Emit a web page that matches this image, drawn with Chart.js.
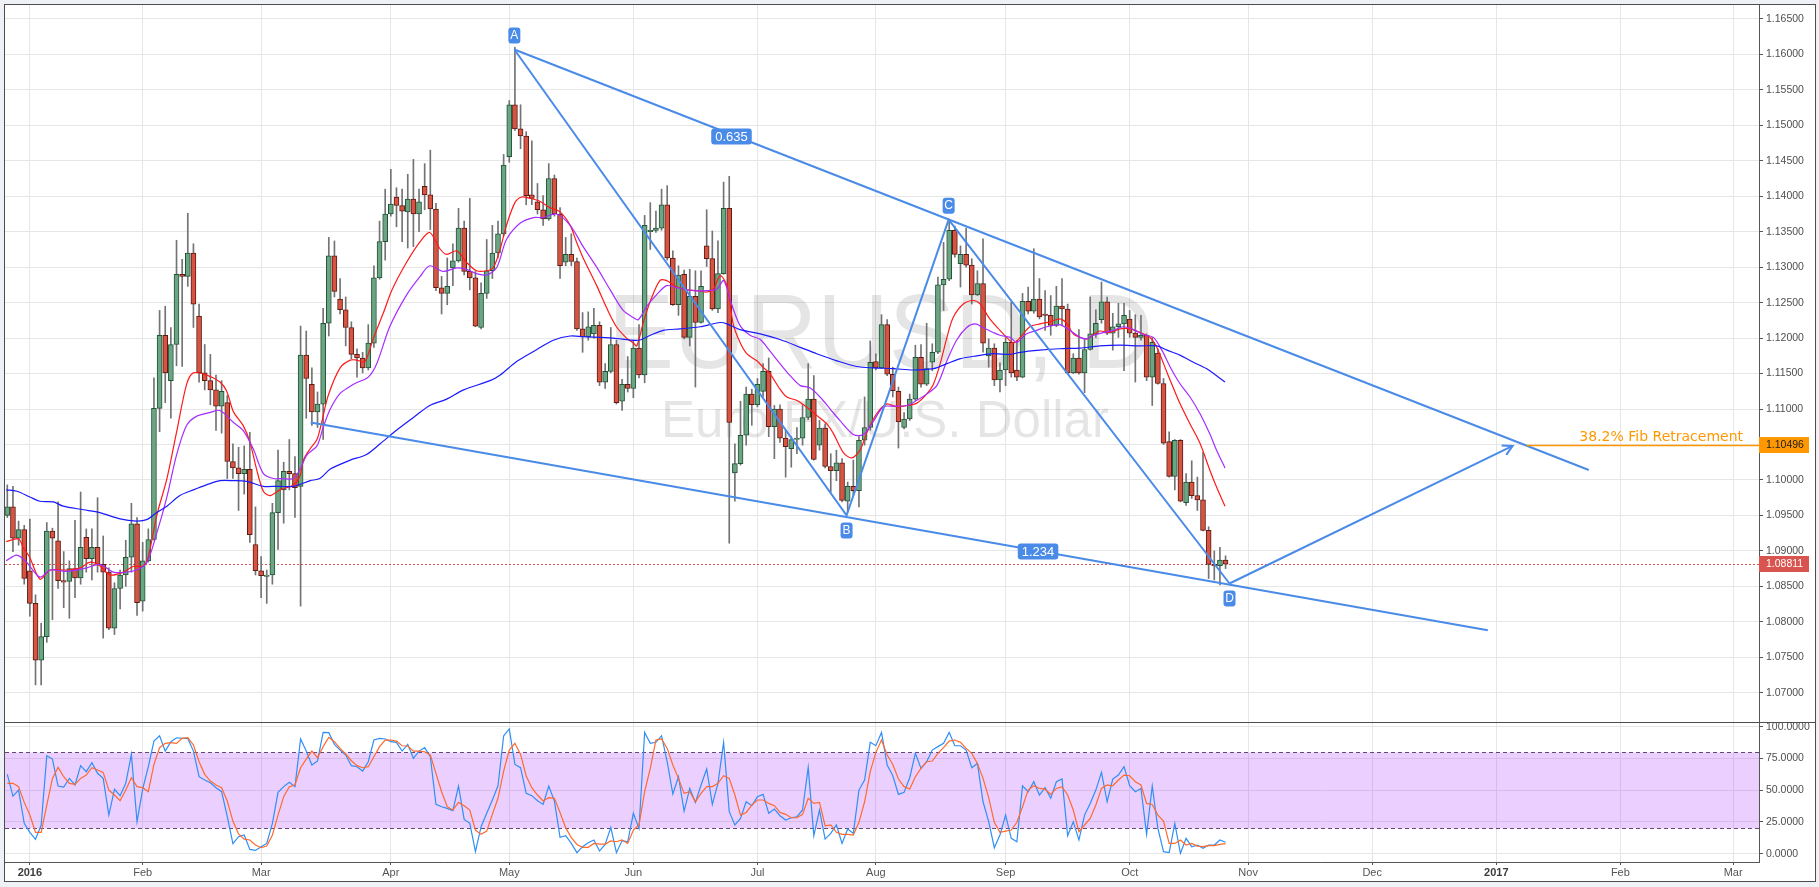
<!DOCTYPE html>
<html>
<head>
<meta charset="utf-8">
<title>EURUSD, D</title>
<script src="https://cdn.jsdelivr.net/npm/chart.js@4.4.1/dist/chart.umd.min.js"></script>
<style>
  html, body { margin: 0; padding: 0; background: #eef1f5; }
  #frame { position: absolute; left: 4px; top: 4px; width: 1812px; height: 878px; box-sizing: border-box; border: 1px solid #4d4d4d; background: #fff; }
  #priceChart { position: absolute; left: 0; top: 0; }
  #stochChart { position: absolute; left: 0; top: 717px; }
  #sep { position: absolute; left: 0; top: 717px; width: 1810px; height: 1px; background: #4d4d4d; }
</style>
</head>
<body>
<div id="frame">
  <canvas id="priceChart" width="1810" height="717"></canvas>
  <canvas id="stochChart" width="1810" height="159"></canvas>
  <div id="sep"></div>
</div>
<script>
// ---- daily candles (index 0 = 28 Dec 2015, one step per trading day) ----
const opens = [
  1.0950,1.0962,1.0918,1.0930,1.0872,1.0826,1.0746,1.0779,1.0928,1.0914,
  1.0858,1.0857,1.0875,1.0862,1.0919,1.0889,1.0905,1.0881,1.0870,1.0791,
  1.0847,1.0866,1.0891,1.0938,1.0829,1.0886,1.0916,1.1101,1.1204,1.1140,
  1.1191,1.1290,1.1287,1.1320,1.1231,1.1151,1.1140,1.1127,1.1104,1.1109,
  1.1026,1.1017,1.1009,1.1015,1.0909,1.0872,1.0864,1.0866,1.0954,1.0986,
  1.1012,1.1009,1.0991,1.1176,1.1135,1.1096,1.1107,1.1221,1.1316,1.1255,
  1.1240,1.1215,1.1177,1.1172,1.1158,1.1193,1.1285,1.1336,1.1375,1.1399,
  1.1387,1.1378,1.1396,1.1375,1.1414,1.1402,1.1382,1.1271,1.1263,1.1299,
  1.1309,1.1355,1.1294,1.1285,1.1215,1.1263,1.1295,1.1320,1.1347,1.1456,
  1.1529,1.1495,1.1485,1.1402,1.1392,1.1381,1.1368,1.1425,1.1375,1.1307,
  1.1318,1.1308,1.1213,1.1202,1.1206,1.1218,1.1138,1.1153,1.1191,1.1111,
  1.1135,1.1129,1.1186,1.1148,1.1350,1.1352,1.1355,1.1388,1.1313,1.1247,
  1.1290,1.1201,1.1259,1.1222,1.1330,1.1312,1.1241,1.1291,1.1383,1.1010,
  1.1023,1.1063,1.1121,1.1106,1.1125,1.1153,1.1075,1.1100,1.1059,1.1044,
  1.1057,1.1059,1.1088,1.1114,1.1049,1.1073,1.1019,1.1013,1.1024,1.0970,
  1.0991,1.0985,1.1056,1.1074,1.1167,1.1158,1.1219,1.1149,1.1125,1.1074,
  1.1086,1.1114,1.1173,1.1135,1.1166,1.1180,1.1275,1.1283,1.1352,1.1305,
  1.1318,1.1303,1.1261,1.1277,1.1175,1.1186,1.1141,1.1155,1.1194,1.1155,
  1.1145,1.1252,1.1238,1.1255,1.1234,1.1232,1.1218,1.1245,1.1241,1.1151,
  1.1172,1.1151,1.1184,1.1206,1.1226,1.1251,1.1207,1.1216,1.1220,1.1227,
  1.1207,1.1201,1.1204,1.1145,1.1179,1.1136,1.1054,1.1005,1.1056,1.0968,
  1.0997,1.0978,1.0972,1.0929,1.0881,1.0879,1.0887
];
const highs = [
  1.0993,1.0991,1.0942,1.0936,1.0945,1.0838,1.0798,1.0940,1.0932,1.0969,
  1.0899,1.0886,1.0943,1.0983,1.0931,1.0931,1.0975,1.0921,1.0876,1.0855,
  1.0873,1.0915,1.0967,1.0947,1.0912,1.0931,1.1144,1.1239,1.1245,1.1215,
  1.1338,1.1311,1.1376,1.1333,1.1248,1.1191,1.1177,1.1148,1.1140,1.1119,
  1.1051,1.1046,1.1048,1.1067,1.0962,1.0892,1.0873,1.0967,1.1042,1.1025,
  1.1057,1.1033,1.1217,1.1210,1.1158,1.1124,1.1242,1.1342,1.1337,1.1284,
  1.1258,1.1223,1.1185,1.1180,1.1219,1.1302,1.1365,1.1410,1.1438,1.1412,
  1.1410,1.1431,1.1452,1.1410,1.1446,1.1465,1.1390,1.1287,1.1313,1.1333,
  1.1383,1.1365,1.1397,1.1294,1.1278,1.1339,1.1359,1.1365,1.1459,1.1535,
  1.1610,1.1529,1.1491,1.1478,1.1418,1.1401,1.1446,1.1430,1.1384,1.1342,
  1.1347,1.1313,1.1236,1.1237,1.1242,1.1223,1.1164,1.1215,1.1197,1.1142,
  1.1174,1.1197,1.1219,1.1373,1.1391,1.1379,1.1410,1.1415,1.1323,1.1302,
  1.1296,1.1297,1.1295,1.1295,1.1381,1.1351,1.1337,1.1420,1.1428,1.1051,
  1.1111,1.1131,1.1128,1.1143,1.1164,1.1172,1.1105,1.1106,1.1070,1.1061,
  1.1074,1.1106,1.1164,1.1147,1.1084,1.1079,1.1037,1.1042,1.1030,1.0997,
  1.1028,1.1061,1.1117,1.1196,1.1178,1.1233,1.1226,1.1159,1.1131,1.1095,
  1.1121,1.1190,1.1191,1.1221,1.1192,1.1286,1.1335,1.1366,1.1358,1.1330,
  1.1355,1.1312,1.1295,1.1340,1.1199,1.1192,1.1165,1.1201,1.1251,1.1197,
  1.1263,1.1272,1.1326,1.1284,1.1267,1.1260,1.1273,1.1284,1.1248,1.1178,
  1.1212,1.1199,1.1258,1.1240,1.1279,1.1258,1.1235,1.1249,1.1249,1.1239,
  1.1233,1.1232,1.1206,1.1201,1.1185,1.1143,1.1068,1.1057,1.1057,1.1009,
  1.1027,1.1004,1.1039,1.0934,1.0900,1.0905,1.0893
];
const lows = [
  1.0947,1.0899,1.0908,1.0853,1.0808,1.0711,1.0711,1.0771,1.0803,1.0847,
  1.0820,1.0805,1.0834,1.0853,1.0870,1.0859,1.0870,1.0777,1.0789,1.0782,
  1.0818,1.0850,1.0870,1.0809,1.0815,1.0884,1.0915,1.1068,1.1109,1.1087,
  1.1161,1.1160,1.1273,1.1215,1.1138,1.1127,1.1106,1.1070,1.1066,1.1002,
  1.1002,1.0957,1.0980,1.0912,1.0866,1.0834,1.0826,1.0853,1.0902,1.0939,
  1.0986,1.0947,1.0822,1.1087,1.1077,1.1074,1.1057,1.1203,1.1258,1.1234,
  1.1189,1.1171,1.1145,1.1151,1.1155,1.1187,1.1283,1.1310,1.1372,1.1357,
  1.1336,1.1327,1.1329,1.1350,1.1381,1.1353,1.1267,1.1234,1.1247,1.1274,
  1.1307,1.1289,1.1268,1.1216,1.1213,1.1256,1.1284,1.1313,1.1344,1.1448,
  1.1493,1.1467,1.1388,1.1388,1.1375,1.1359,1.1366,1.1372,1.1284,1.1302,
  1.1302,1.1211,1.1180,1.1197,1.1200,1.1133,1.1129,1.1151,1.1107,1.1098,
  1.1124,1.1116,1.1144,1.1137,1.1325,1.1349,1.1352,1.1310,1.1246,1.1232,
  1.1199,1.1189,1.1131,1.1221,1.1301,1.1239,1.1236,1.1290,1.0911,1.0970,
  1.1021,1.1049,1.1077,1.1103,1.1117,1.1061,1.1030,1.1053,1.1004,1.1018,
  1.1037,1.1049,1.1085,1.1028,1.1042,1.1017,1.0983,1.0999,1.0969,1.0955,
  1.0978,1.0962,1.1049,1.1070,1.1155,1.1157,1.1147,1.1117,1.1045,1.1072,
  1.1084,1.1112,1.1131,1.1133,1.1154,1.1178,1.1239,1.1281,1.1314,1.1272,
  1.1300,1.1248,1.1260,1.1180,1.1159,1.1133,1.1124,1.1133,1.1145,1.1140,
  1.1144,1.1234,1.1235,1.1227,1.1211,1.1204,1.1216,1.1218,1.1150,1.1150,
  1.1149,1.1123,1.1183,1.1201,1.1221,1.1205,1.1183,1.1201,1.1154,1.1201,
  1.1138,1.1197,1.1140,1.1105,1.1135,1.1050,1.1004,1.0986,1.0969,1.0964,
  1.0974,1.0957,1.0928,1.0861,1.0859,1.0852,1.0875
];
const closes = [
  1.0962,1.0918,1.0930,1.0861,1.0826,1.0746,1.0779,1.0928,1.0918,1.0858,
  1.0856,1.0875,1.0862,1.0905,1.0889,1.0905,1.0881,1.0870,1.0791,1.0847,
  1.0866,1.0891,1.0938,1.0827,1.0886,1.0916,1.1101,1.1204,1.1151,1.1191,
  1.1290,1.1287,1.1320,1.1248,1.1151,1.1140,1.1127,1.1104,1.1125,1.1026,
  1.1017,1.1009,1.1015,1.0923,1.0872,1.0865,1.0866,1.0954,1.0999,1.1012,
  1.1009,1.0989,1.1176,1.1143,1.1096,1.1107,1.1221,1.1316,1.1266,1.1240,
  1.1215,1.1177,1.1172,1.1158,1.1193,1.1285,1.1336,1.1375,1.1389,1.1387,
  1.1379,1.1396,1.1375,1.1392,1.1402,1.1382,1.1271,1.1263,1.1273,1.1309,
  1.1355,1.1294,1.1285,1.1217,1.1263,1.1295,1.1320,1.1347,1.1444,1.1529,
  1.1495,1.1485,1.1401,1.1397,1.1381,1.1368,1.1425,1.1375,1.1302,1.1318,
  1.1308,1.1213,1.1202,1.1216,1.1218,1.1138,1.1153,1.1191,1.1109,1.1135,
  1.1129,1.1186,1.1148,1.1359,1.1352,1.1355,1.1388,1.1313,1.1247,1.1289,
  1.1201,1.1259,1.1222,1.1273,1.1312,1.1241,1.1291,1.1383,1.1081,1.1023,
  1.1063,1.1121,1.1106,1.1135,1.1153,1.1075,1.1100,1.1059,1.1047,1.1057,
  1.1059,1.1088,1.1114,1.1029,1.1073,1.1019,1.1013,1.1024,1.0971,1.0991,
  1.0985,1.1056,1.1074,1.1166,1.1158,1.1219,1.1149,1.1126,1.1082,1.1086,
  1.1114,1.1173,1.1135,1.1157,1.1180,1.1275,1.1283,1.1352,1.1318,1.1318,
  1.1303,1.1261,1.1277,1.1193,1.1186,1.1141,1.1155,1.1194,1.1151,1.1145,
  1.1252,1.1238,1.1255,1.1230,1.1232,1.1218,1.1245,1.1241,1.1151,1.1172,
  1.1151,1.1184,1.1206,1.1221,1.1251,1.1207,1.1216,1.1220,1.1232,1.1207,
  1.1201,1.1204,1.1145,1.1194,1.1136,1.1052,1.1005,1.1056,1.0970,1.0997,
  1.0978,1.0972,1.0929,1.0881,1.0879,1.0887,1.08811
];

// ---- moving averages (x = candle index) ----
const maFastX = [-0.2,2.0,2.8,3.9,5.8,7.6,10.5,12.9,14.7,16.4,18.2,20.6,22.3,24.1,25.0,26.5,28.3,30.0,31.8,33.0,35.3,37.7,38.9,40.1,41.8,43.0,44.2,45.4,46.6,48.3,50.7,51.9,52.5,53.7,54.9,55.7,56.9,59.0,60.8,61.9,63.4,64.9,66.7,68.2,70.8,73.2,74.9,76.7,77.9,79.7,81.4,83.2,85.0,86.2,87.4,88.5,90.0,91.2,92.7,94.4,96.2,98.0,99.8,100.9,102.1,104.5,106.3,108.0,109.8,111.0,111.6,112.8,114.0,115.7,116.9,118.7,120.5,122.2,124.0,125.2,126.4,127.6,128.7,129.9,131.1,132.9,134.0,135.2,137.0,138.2,140.0,141.7,143.5,145.3,146.5,148.2,149.7,151.2,152.4,154.1,155.9,157.7,159.5,161.2,163.0,164.2,165.4,166.6,167.7,169.5,171.3,172.5,174.2,176.0,177.2,178.4,179.6,181.3,183.1,184.9,186.6,187.8,189.0,190.2,191.4,192.6,193.7,195.5,197.3,199.1,200.8,202.6,203.8,205.6,207.9,209.7,211.5,213.2,214.4,215.9];
const maFastY = [1.0913,1.0917,1.0905,1.0892,1.0860,1.0873,1.0873,1.0876,1.0884,1.0879,1.0866,1.0870,1.0878,1.0879,1.0892,1.0950,1.1002,1.1067,1.1135,1.1151,1.1148,1.1138,1.1125,1.1096,1.1077,1.1054,1.1015,1.0984,1.0978,1.0986,1.0993,1.1006,1.1028,1.1044,1.1057,1.1080,1.1119,1.1158,1.1169,1.1169,1.1167,1.1200,1.1236,1.1268,1.1307,1.1336,1.1349,1.1326,1.1318,1.1323,1.1307,1.1295,1.1295,1.1300,1.1326,1.1359,1.1391,1.1399,1.1397,1.1393,1.1384,1.1378,1.1359,1.1336,1.1313,1.1274,1.1242,1.1216,1.1200,1.1193,1.1189,1.1223,1.1252,1.1281,1.1281,1.1272,1.1268,1.1267,1.1265,1.1269,1.1288,1.1274,1.1220,1.1194,1.1178,1.1168,1.1159,1.1150,1.1128,1.1117,1.1112,1.1103,1.1091,1.1079,1.1065,1.1039,1.1031,1.1042,1.1067,1.1093,1.1107,1.1103,1.1105,1.1108,1.1121,1.1135,1.1164,1.1201,1.1229,1.1248,1.1253,1.1248,1.1227,1.1211,1.1201,1.1193,1.1201,1.1216,1.1220,1.1223,1.1227,1.1221,1.1206,1.1201,1.1199,1.1205,1.1210,1.1208,1.1213,1.1213,1.1208,1.1201,1.1187,1.1152,1.1108,1.1079,1.1051,1.1014,1.0990,1.0963];

const maMidX = [-0.2,1.7,3.4,5.8,7.6,10.5,14.1,16.4,18.8,21.2,22.9,24.7,26.5,28.3,30.0,31.8,33.6,35.9,37.7,40.1,41.8,43.6,45.4,47.2,48.9,50.7,51.9,53.1,54.9,56.0,57.2,59.0,60.8,61.9,64.0,65.5,67.8,70.8,73.2,74.9,77.3,79.7,81.4,83.2,85.0,86.8,88.5,90.9,93.3,95.0,97.4,99.8,102.1,104.5,106.9,109.2,111.0,111.9,113.4,115.1,116.9,118.7,121.6,124.0,125.8,127.0,128.4,129.9,131.7,133.5,135.2,137.0,138.8,140.6,142.3,144.1,145.9,147.6,150.0,151.8,153.5,155.3,157.1,159.5,161.2,163.0,164.8,166.6,168.3,170.1,171.6,173.0,174.8,176.0,177.8,179.0,180.7,182.5,184.3,186.6,188.4,190.2,191.4,192.6,194.4,196.1,197.9,199.7,201.4,203.2,204.7,206.2,207.9,209.7,211.5,213.2,214.4,215.9];
const maMidY = [1.0886,1.0894,1.0884,1.0863,1.0873,1.0871,1.0876,1.0881,1.0870,1.0870,1.0873,1.0883,1.0925,1.0976,1.1035,1.1077,1.1090,1.1095,1.1098,1.1081,1.1070,1.1044,1.1009,1.1002,1.1002,1.1002,1.1015,1.1035,1.1048,1.1074,1.1099,1.1122,1.1132,1.1137,1.1145,1.1164,1.1216,1.1261,1.1287,1.1302,1.1294,1.1299,1.1297,1.1291,1.1289,1.1300,1.1339,1.1362,1.1370,1.1370,1.1375,1.1359,1.1329,1.1300,1.1268,1.1239,1.1229,1.1226,1.1245,1.1261,1.1274,1.1271,1.1267,1.1267,1.1269,1.1281,1.1248,1.1218,1.1204,1.1198,1.1182,1.1164,1.1147,1.1133,1.1130,1.1117,1.1100,1.1084,1.1064,1.1064,1.1082,1.1103,1.1104,1.1105,1.1112,1.1121,1.1133,1.1168,1.1197,1.1215,1.1220,1.1215,1.1208,1.1204,1.1201,1.1194,1.1206,1.1211,1.1216,1.1219,1.1211,1.1201,1.1199,1.1204,1.1208,1.1211,1.1216,1.1212,1.1205,1.1201,1.1183,1.1159,1.1136,1.1117,1.1093,1.1065,1.1042,1.1017];

const maSlowX = [-0.2,1.7,4.0,5.8,8.2,9.9,13.5,16.4,20.0,22.9,24.7,26.5,28.3,30.6,33.0,35.3,37.7,40.1,42.4,45.4,47.8,50.7,53.7,55.4,57.2,59.0,60.8,63.7,66.1,69.0,72.0,74.9,77.9,80.9,85.6,87.4,90.3,93.9,96.8,99.8,102.1,107.4,111.9,114.0,116.3,119.3,122.8,126.4,127.6,129.9,133.5,137.0,140.6,143.5,147.1,150.6,153.5,157.1,160.6,164.2,166.6,169.0,171.9,174.8,177.8,179.6,183.1,186.6,190.2,193.7,197.3,200.8,203.8,205.6,207.9,210.3,212.6,215.9];
const maSlowY = [1.0986,1.0984,1.0976,1.0970,1.0969,1.0963,1.0958,1.0954,1.0945,1.0942,1.0944,1.0954,1.0963,1.0978,1.0986,1.0993,1.0999,1.0999,1.0998,1.0991,1.0991,1.0991,1.0999,1.1002,1.1015,1.1022,1.1028,1.1036,1.1051,1.1070,1.1088,1.1105,1.1114,1.1127,1.1140,1.1148,1.1167,1.1184,1.1197,1.1203,1.1202,1.1200,1.1197,1.1204,1.1211,1.1213,1.1216,1.1222,1.1220,1.1212,1.1206,1.1198,1.1187,1.1178,1.1168,1.1160,1.1158,1.1157,1.1155,1.1157,1.1164,1.1171,1.1175,1.1178,1.1177,1.1180,1.1183,1.1185,1.1186,1.1189,1.1190,1.1189,1.1189,1.1183,1.1176,1.1166,1.1157,1.1138];

// ---- stochastic %K / %D, one value per candle ----
const stochK = [
  62.5,45.4,50.1,23.9,16.8,11.3,22.6,77.2,74.5,53.3,
  52.5,59.3,54.1,69.3,64.6,71.7,63.3,59.3,30.4,50.7,
  45.7,55.4,78.2,25.2,50.9,68.5,88.7,92.9,80.8,88.2,
  91.3,90.8,90.8,80.8,60.6,58.0,55.9,52.0,48.8,29.1,
  7.9,13.4,14.7,3.4,2.6,5.5,8.1,23.9,48.3,52.8,
  56.2,52.8,90.3,80.8,69.8,73.0,95.5,95.3,86.1,81.6,
  77.7,69.3,68.5,65.1,72.4,89.5,90.8,90.3,88.2,87.7,
  80.8,86.1,75.1,80.8,83.5,76.4,38.8,37.0,35.7,33.9,
  53.3,27.0,23.9,1.6,21.3,31.8,42.3,53.5,92.7,98.2,
  70.3,67.7,47.5,45.7,41.7,38.8,53.3,41.5,12.9,14.2,
  8.1,0.8,5.5,8.7,10.8,2.1,7.3,20.7,0.8,10.3,
  9.4,31.8,19.9,95.5,86.9,87.7,92.9,72.4,47.0,60.6,
  33.6,51.4,40.4,54.1,66.7,38.8,55.4,87.7,33.1,22.6,
  27.8,40.9,37.8,44.9,46.7,31.8,35.2,29.9,26.5,28.3,
  29.1,34.4,68.0,14.2,34.4,11.5,16.0,22.6,8.1,19.4,
  16.0,50.1,58.0,87.7,85.0,95.5,69.8,61.4,46.7,48.3,
  59.8,79.0,67.2,72.4,81.6,84.3,86.9,95.5,85.0,85.0,
  81.6,67.7,71.1,40.9,25.2,4.7,14.7,30.4,12.1,9.4,
  53.5,48.8,56.7,46.2,52.0,43.6,56.7,58.8,14.2,25.2,
  10.8,30.4,39.6,50.1,64.0,40.9,58.8,61.9,68.5,53.5,
  48.8,51.4,15.2,53.3,19.9,1.6,0.8,23.9,0.3,12.1,
  5.5,6.8,4.2,6.8,6.8,10.8,9.0
];
const stochD = [
  55.4,55.4,52.8,40.4,30.4,16.8,16.8,38.3,59.3,68.0,
  60.6,55.4,54.6,59.3,61.9,67.7,65.9,64.0,50.1,46.2,
  41.7,50.1,59.8,52.8,52.0,48.8,70.3,83.5,86.9,87.4,
  86.9,90.8,91.3,85.6,72.4,62.5,57.2,54.1,52.0,41.5,
  25.7,15.5,11.5,10.8,6.8,4.7,6.0,14.7,30.4,44.9,
  52.8,54.1,67.7,74.5,80.8,75.6,84.3,91.6,88.2,82.9,
  78.5,73.2,69.3,67.7,68.5,76.4,84.3,89.5,89.5,88.7,
  85.0,84.8,80.8,80.8,80.3,77.7,63.3,48.8,37.0,34.4,
  40.4,37.8,34.4,18.6,15.2,17.8,31.0,43.6,65.1,81.6,
  86.9,78.2,61.2,52.0,46.2,41.5,44.1,43.6,32.5,20.5,
  12.6,7.3,5.0,5.0,8.1,7.6,7.6,10.0,9.4,10.8,
  8.1,18.6,22.6,48.8,67.2,89.5,90.3,82.9,69.8,59.3,
  47.5,48.8,40.9,47.5,52.8,52.8,55.4,61.4,59.3,46.2,
  30.4,32.5,38.3,42.3,42.3,39.6,37.8,32.5,31.0,28.3,
  28.3,31.0,43.6,39.6,40.4,22.0,22.6,16.8,15.2,15.2,
  14.7,24.7,40.9,64.6,79.8,89.5,77.7,70.3,58.8,52.8,
  50.9,60.6,67.2,72.4,73.0,79.0,83.5,88.7,89.5,87.7,
  82.9,79.0,71.1,59.3,44.1,24.7,16.8,17.8,18.6,24.7,
  37.0,50.1,53.5,51.4,50.9,46.7,51.4,52.8,46.2,34.4,
  17.3,22.6,27.8,38.3,51.4,54.1,53.5,58.0,61.9,61.4,
  56.7,54.1,39.6,38.8,30.4,25.7,8.1,8.1,10.8,6.8,
  8.1,6.0,5.5,6.3,6.3,7.3,8.0
];

// ---- axes ----
const monthIdx = [4, 24, 45, 68, 89, 111, 133, 154, 177, 199, 220, 242, 264, 286, 306];
const monthLabels = ['2016', 'Feb', 'Mar', 'Apr', 'May', 'Jun', 'Jul', 'Aug', 'Sep', 'Oct', 'Nov', 'Dec', '2017', 'Feb', 'Mar'];
const priceTicks = [1.070, 1.075, 1.080, 1.085, 1.090, 1.095, 1.100, 1.105, 1.110, 1.115,
                    1.120, 1.125, 1.130, 1.135, 1.140, 1.145, 1.150, 1.155, 1.160, 1.165];
const stochTicks = [0, 25, 50, 75, 100];

// ---- drawn pattern (XABCD) ----
const pointNames = ['A', 'B', 'C', 'D'];
const pointIdx = [89.9, 148.8, 166.9, 216.7];
const pointPrice = [1.1607, 1.0950, 1.1367, 1.0854];
const upperLineIdx = [89.9, 280.4];
const upperLinePrice = [1.1607, 1.1014];
const lowerLineIdx = [53.8, 262.5];
const lowerLinePrice = [1.1081, 1.0788];
const projectionIdx = [216.7, 266.9];
const projectionPrice = [1.0854, 1.1048];
const ratioLabels = ['0.635', '1.234'];
const lastClose = 1.08811;
const fibLevel = 1.10496;
const fibStartIdx = 269.4;
const fibText = '38.2% Fib Retracement';

const X_MIN = -0.41, X_MAX = 310.58;
const FONT = '"Liberation Sans", Arial, sans-serif';
const BLUE = '#4a8be8';
Chart.defaults.font.family = FONT;

const idx = opens.map((_, i) => i);
const pts = (xs, ys) => xs.map((x, k) => ({ x: x, y: ys[k] }));
const isUp = i => closes[i] >= opens[i];

function roundBox(ctx, x, y, w, h, r) {
  ctx.beginPath();
  if (ctx.roundRect) ctx.roundRect(x, y, w, h, r); else ctx.rect(x, y, w, h);
  ctx.fill();
}

function tag(ctx, x, y, text, bg, fg) {
  ctx.fillStyle = bg;
  ctx.fillRect(x, y - 8, 50, 16);
  ctx.fillStyle = fg;
  ctx.font = '10.5px ' + FONT;
  ctx.textAlign = 'left';
  ctx.textBaseline = 'middle';
  ctx.fillText(text, x + 7, y + 0.5);
}

const priceDecor = {
  id: 'priceDecor',
  beforeDatasetsDraw(chart) {
    const { ctx, chartArea: a, scales: { x, y } } = chart;
    ctx.save();
    // watermark
    ctx.fillStyle = 'rgba(0,0,0,0.1)';
    ctx.textBaseline = 'alphabetic';
    ctx.textAlign = 'left';
    ctx.font = '105px ' + FONT;
    const t1 = 'EURUSD, D';
    const w1 = ctx.measureText(t1).width;
    ctx.save();
    ctx.translate(603, 363);
    ctx.scale(545 / w1, 1);
    ctx.fillText(t1, 0, 0);
    ctx.restore();
    ctx.font = '51px ' + FONT;
    ctx.textAlign = 'center';
    ctx.fillText('Euro FX/U.S. Dollar', 880, 432);

    // last price line
    const yc = Math.round(y.getPixelForValue(lastClose)) + 0.5;
    ctx.strokeStyle = '#d9534f';
    ctx.lineWidth = 1;
    ctx.setLineDash([2, 2]);
    ctx.beginPath();
    ctx.moveTo(a.left, yc);
    ctx.lineTo(a.right, yc);
    ctx.stroke();
    ctx.restore();
  },
  afterDatasetsDraw(chart) {
    const { ctx, chartArea: a, scales: { x, y } } = chart;
    ctx.save();
    // fib level
    const yf = Math.round(y.getPixelForValue(fibLevel)) + 0.5;
    ctx.strokeStyle = '#ff9800';
    ctx.lineWidth = 1.5;
    ctx.beginPath();
    ctx.moveTo(x.getPixelForValue(fibStartIdx), yf);
    ctx.lineTo(a.right, yf);
    ctx.stroke();
    ctx.fillStyle = '#ff9800';
    ctx.font = '14px "DejaVu Sans", sans-serif';
    ctx.textAlign = 'right';
    ctx.textBaseline = 'alphabetic';
    ctx.fillText(fibText, 1738, yf - 5);

    // arrow head at the end of the projection
    const x0 = x.getPixelForValue(projectionIdx[0]), y0 = y.getPixelForValue(projectionPrice[0]);
    const x1 = x.getPixelForValue(projectionIdx[1]), y1 = y.getPixelForValue(projectionPrice[1]);
    const ang = Math.atan2(y1 - y0, x1 - x0);
    ctx.strokeStyle = BLUE;
    ctx.lineWidth = 2;
    ctx.beginPath();
    ctx.moveTo(x1 - 11 * Math.cos(ang - 0.5), y1 - 11 * Math.sin(ang - 0.5));
    ctx.lineTo(x1, y1);
    ctx.lineTo(x1 - 11 * Math.cos(ang + 0.5), y1 - 11 * Math.sin(ang + 0.5));
    ctx.stroke();

    // point labels
    ctx.font = '12px ' + FONT;
    ctx.textAlign = 'center';
    ctx.textBaseline = 'middle';
    pointNames.forEach((name, k) => {
      const px = x.getPixelForValue(pointIdx[k]);
      const py = y.getPixelForValue(pointPrice[k]) + (k % 2 === 0 ? -14 : 15);
      ctx.fillStyle = BLUE;
      roundBox(ctx, px - 6, py - 8, 12, 16, 3);
      ctx.fillStyle = '#fff';
      ctx.fillText(name, px, py + 0.5);
    });
    // ratio labels at the middle of A-C and B-D
    ctx.font = '13px ' + FONT;
    [[0, 2], [1, 3]].forEach((pair, k) => {
      const mx = x.getPixelForValue((pointIdx[pair[0]] + pointIdx[pair[1]]) / 2);
      const my = y.getPixelForValue((pointPrice[pair[0]] + pointPrice[pair[1]]) / 2) + (k === 0 ? 2 : 2);
      const w = ctx.measureText(ratioLabels[k]).width + 8;
      ctx.fillStyle = BLUE;
      roundBox(ctx, mx - w / 2, my - 8, w, 16, 3);
      ctx.fillStyle = '#fff';
      ctx.fillText(ratioLabels[k], mx, my + 0.5);
    });
    ctx.restore();
  },
  afterDraw(chart) {
    const { ctx, chartArea: a, scales: { y } } = chart;
    ctx.save();
    tag(ctx, a.right, Math.round(y.getPixelForValue(fibLevel)), fibLevel.toFixed(5), '#ff9800', '#222');
    tag(ctx, a.right, Math.round(y.getPixelForValue(lastClose)), lastClose.toFixed(5), '#d9534f', '#fff');
    ctx.restore();
  }
};

const stochBand = {
  id: 'stochBand',
  beforeDatasetsDraw(chart) {
    const { ctx, chartArea: a, scales: { y } } = chart;
    const top = Math.round(y.getPixelForValue(80)) + 0.5;
    const bot = Math.round(y.getPixelForValue(20)) + 0.5;
    ctx.save();
    ctx.fillStyle = 'rgba(153,21,255,0.2)';
    ctx.fillRect(a.left, top, a.right - a.left, bot - top);
    ctx.strokeStyle = '#5e4b6e';
    ctx.lineWidth = 1;
    ctx.setLineDash([4, 3]);
    ctx.beginPath();
    ctx.moveTo(a.left, top); ctx.lineTo(a.right, top);
    ctx.moveTo(a.left, bot); ctx.lineTo(a.right, bot);
    ctx.stroke();
    ctx.restore();
  }
};

const xGrid = { color: '#e6e6e6', lineWidth: 1 };

function monthTicks(scale) {
  scale.ticks = monthIdx.map(v => ({ value: v }));
}

function yAxis(min, max, ticks, digits) {
  return {
    position: 'right',
    min: min,
    max: max,
    afterBuildTicks: s => { s.ticks = ticks.map(v => ({ value: v })); },
    afterFit: s => { s.width = 56; s.paddingTop = 0; s.paddingBottom = 0; },
    grid: { color: '#e6e6e6', tickColor: '#555', tickLength: 4 },
    border: { color: '#555' },
    ticks: {
      color: '#4f4f4f',
      padding: 3,
      font: { size: 10.5, family: FONT },
      callback: v => Number(v).toFixed(digits)
    }
  };
}

// price panel
new Chart(document.getElementById('priceChart'), {
  type: 'bar',
  data: {
    datasets: [
      {
        label: 'wick',
        data: idx.map(i => ({ x: i, y: [lows[i], highs[i]] })),
        backgroundColor: '#737375',
        barThickness: 1,
        grouped: false,
        order: 5
      },
      {
        label: 'candle',
        data: idx.map(i => ({ x: i, y: [opens[i], closes[i]] })),
        backgroundColor: c => isUp(c.dataIndex) ? '#6ba583' : '#d75442',
        borderColor: c => isUp(c.dataIndex) ? '#225437' : '#5b1a13',
        borderWidth: 1,
        borderSkipped: false,
        barThickness: 5,
        minBarLength: 1,
        grouped: false,
        order: 4
      },
      { type: 'line', label: 'MA slow', data: pts(maSlowX, maSlowY), borderColor: '#1a1aff', borderWidth: 1.2, pointRadius: 0, tension: 0.3, order: 3 },
      { type: 'line', label: 'MA mid', data: pts(maMidX, maMidY), borderColor: '#a62cff', borderWidth: 1.2, pointRadius: 0, tension: 0.3, order: 3 },
      { type: 'line', label: 'MA fast', data: pts(maFastX, maFastY), borderColor: '#ff1a1a', borderWidth: 1.2, pointRadius: 0, tension: 0.3, order: 3 },
      { type: 'line', label: 'ABCD', data: pts(pointIdx, pointPrice), borderColor: BLUE, borderWidth: 2, pointRadius: 0, tension: 0, order: 1 },
      { type: 'line', label: 'upper', data: pts(upperLineIdx, upperLinePrice), borderColor: BLUE, borderWidth: 2, pointRadius: 0, tension: 0, order: 1 },
      { type: 'line', label: 'lower', data: pts(lowerLineIdx, lowerLinePrice), borderColor: BLUE, borderWidth: 2, pointRadius: 0, tension: 0, order: 1 },
      { type: 'line', label: 'projection', data: pts(projectionIdx, projectionPrice), borderColor: BLUE, borderWidth: 2, pointRadius: 0, tension: 0, order: 1 }
    ]
  },
  options: {
    responsive: false,
    animation: false,
    devicePixelRatio: 1,
    layout: { padding: 0 },
    plugins: { legend: { display: false }, tooltip: { enabled: false } },
    scales: {
      x: {
        type: 'linear',
        min: X_MIN,
        max: X_MAX,
        offset: false,
        afterBuildTicks: monthTicks,
        afterFit: s => { s.height = 0; s.paddingLeft = 0; s.paddingRight = 0; },
        grid: Object.assign({ drawTicks: false, offset: false }, xGrid),
        border: { display: false },
        ticks: { display: false }
      },
      y: yAxis(1.06587, 1.16697, priceTicks, 5)
    }
  },
  plugins: [priceDecor]
});

// stochastic panel
new Chart(document.getElementById('stochChart'), {
  type: 'line',
  data: {
    datasets: [
      { label: '%K', data: idx.map(i => ({ x: i, y: stochK[i] })), borderColor: '#2f8ff5', borderWidth: 1.2, pointRadius: 0, tension: 0, order: 1 },
      { label: '%D', data: idx.map(i => ({ x: i, y: stochD[i] })), borderColor: '#ff6a2c', borderWidth: 1.2, pointRadius: 0, tension: 0, order: 0 }
    ]
  },
  options: {
    responsive: false,
    animation: false,
    devicePixelRatio: 1,
    layout: { padding: 0 },
    plugins: { legend: { display: false }, tooltip: { enabled: false } },
    scales: {
      x: {
        type: 'linear',
        min: X_MIN,
        max: X_MAX,
        afterBuildTicks: monthTicks,
        afterFit: s => { s.height = 19; s.paddingLeft = 0; s.paddingRight = 0; },
        grid: Object.assign({ tickColor: '#555', tickLength: 3 }, xGrid),
        border: { color: '#555' },
        ticks: {
          autoSkip: false,
          maxRotation: 0,
          padding: 1,
          color: c => monthLabels[c.index] && monthLabels[c.index].length === 4 ? '#3c3c3c' : '#555',
          font: c => ({ size: 11, family: FONT, weight: monthLabels[c.index] && monthLabels[c.index].length === 4 ? 'bold' : 'normal' }),
          callback: (v, k) => monthLabels[k]
        }
      },
      y: yAxis(-6.54, 103.7, stochTicks, 4)
    }
  },
  plugins: [stochBand]
});
</script>
</body>
</html>
